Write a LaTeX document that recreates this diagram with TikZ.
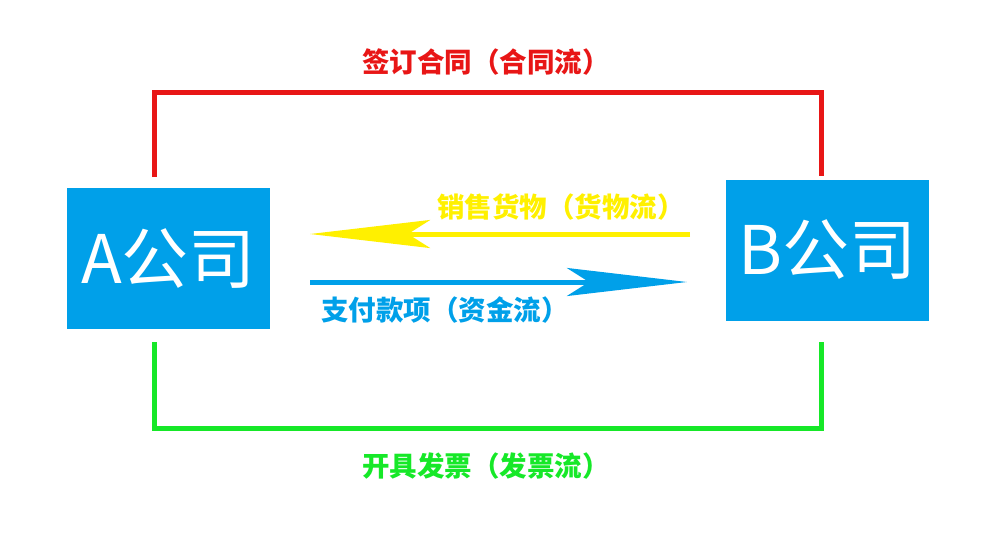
\documentclass[tikz,border=0pt]{standalone}
\usepackage{fontspec}
\setmainfont{Noto Sans CJK SC}
\usetikzlibrary{arrows.meta}
\definecolor{boxblue}{RGB}{0,160,233}
\definecolor{flowred}{RGB}{232,22,22}
\definecolor{flowgreen}{RGB}{22,232,40}
\definecolor{flowyellow}{RGB}{255,240,0}
\tikzset{
  company/.style={fill=boxblue,text=white,inner sep=0pt,minimum width=203pt,minimum height=141pt,font=\fontsize{67}{67}\selectfont},
  flowlabel/.style={inner sep=0pt,font=\fontsize{27.5}{27.5}\selectfont\bfseries},
  flowline/.style={line width=5pt},
  bigarrow/.style={line width=5pt,-{Stealth[length=120pt,width=28pt,inset=22pt]}}
}
\begin{document}
\begin{tikzpicture}
\useasboundingbox (0pt,0pt) rectangle (1000pt,-533pt);
\node[company] (A) at (168.5pt,-258.5pt) {A公司};
\node[company] (B) at (827pt,-250pt) {B公司\hspace{22pt}};

\coordinate (redA) at (154pt,-177pt);
\coordinate (redB) at (821pt,-176pt);
\coordinate (greenA) at (154pt,-342pt);
\coordinate (greenB) at (821pt,-342pt);
\draw[flowline,flowred] (redA) |- (821pt,-92pt) -- (redB);
\draw[flowline,flowgreen] (greenA) |- (821pt,-428pt) -- (greenB);
\node[flowlabel,text=flowred] (contract) at (486pt,-62pt) {签订合同（合同流）};
\node[flowlabel,text=flowgreen] (invoice) at (486pt,-466pt) {开具发票（发票流）};

\coordinate (goodsB) at (690pt,-234pt);
\coordinate (goodsA) at (310pt,-234pt);
\coordinate (payA) at (310pt,-282pt);
\coordinate (payB) at (687pt,-282pt);
\draw[bigarrow,flowyellow] (goodsB) -- (goodsA);
\draw[bigarrow,boxblue] (payA) -- (payB);
\node[flowlabel,text=flowyellow] (goods) at (561pt,-207pt) {销售货物（货物流）};
\node[flowlabel,text=boxblue] (pay) at (445pt,-310pt) {支付款项（资金流）};
\end{tikzpicture}
\end{document}
